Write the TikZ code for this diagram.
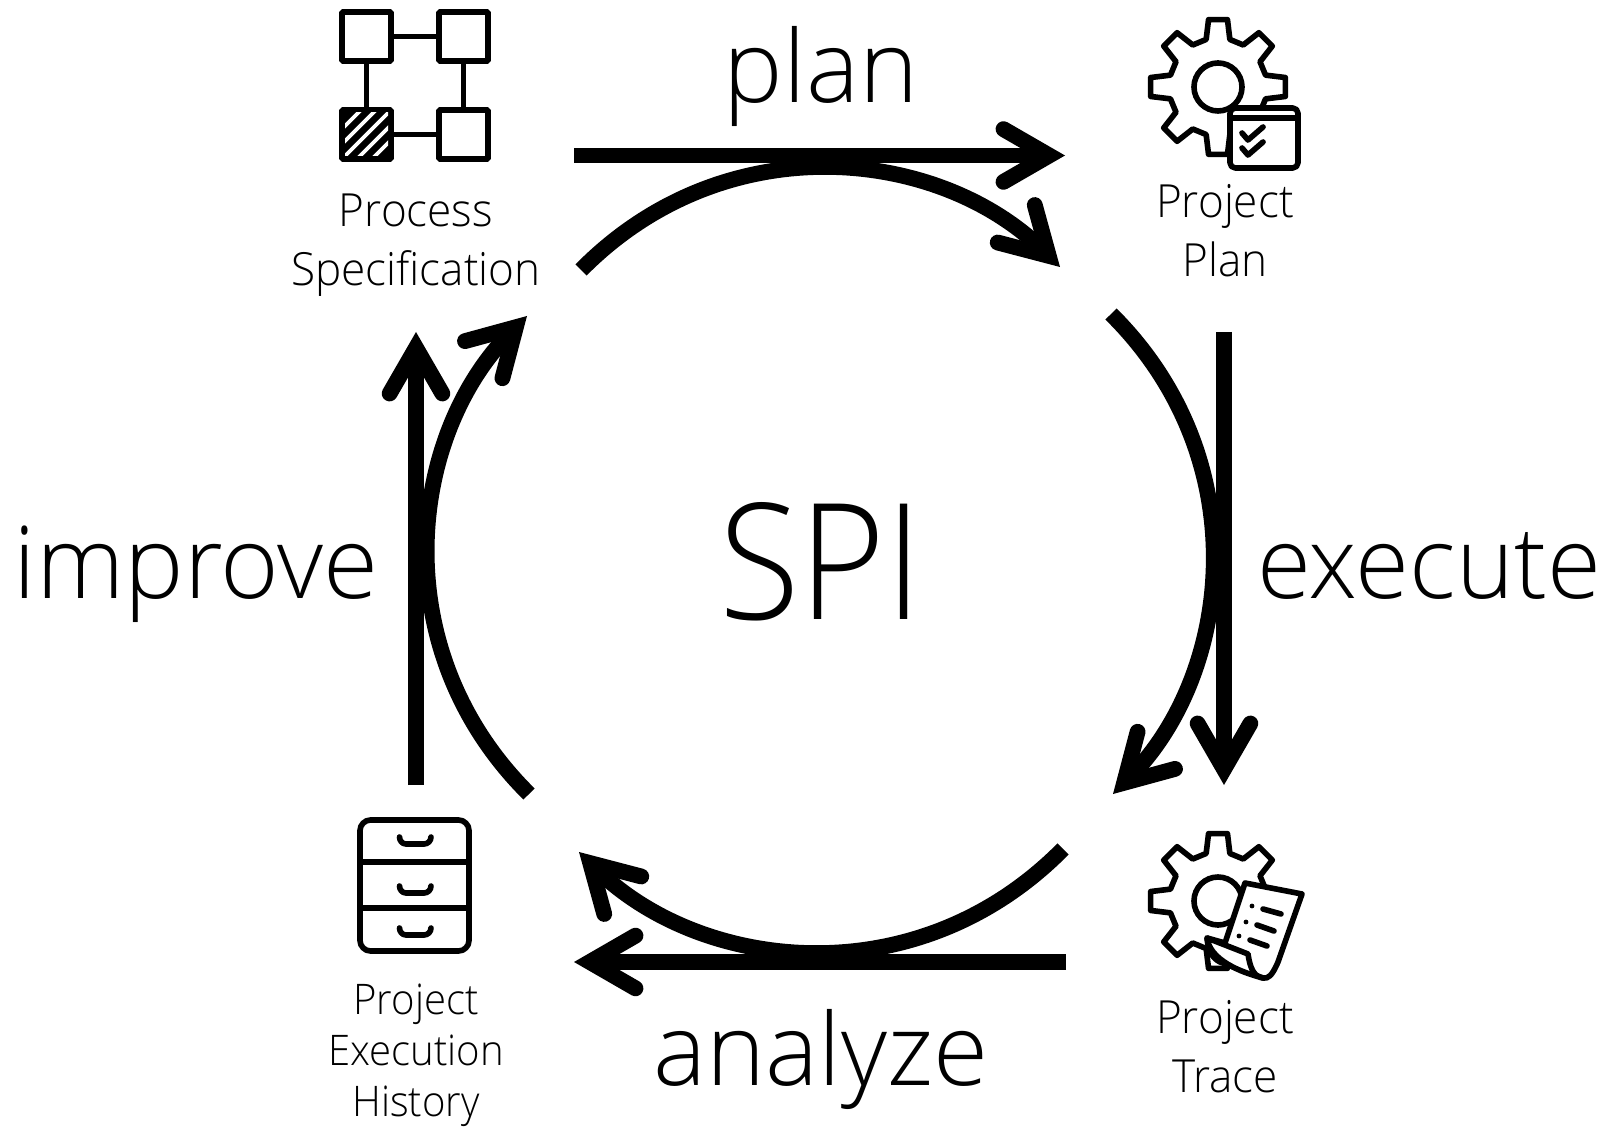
\documentclass[tikz,border=0pt]{standalone}
\usepackage{fontspec}
\setmainfont{Open Sans Light}
\usetikzlibrary{arrows.meta}
\tikzset{
  flow/.style={line width=9pt,-{Straight Barb[length=26pt,width=30pt,line cap=round,line join=miter]}},
  arcflow/.style={flow,bend left=45,out looseness=1.1,in looseness=.9},
  ink/.style={line width=3.2pt,line join=round,line cap=round},
  box node/.style={draw,line width=3.2pt,rounded corners=.6pt,minimum size=27.9pt,inner sep=0pt,fill=white},
  big label/.style={font=\fontsize{57}{60}\selectfont,anchor=base},
  huge label/.style={font=\fontsize{92}{96}\selectfont\addfontfeatures{FakeStretch=.91},anchor=base},
  small label/.style={font=\fontsize{26}{33.5}\selectfont\addfontfeatures{FakeStretch=.965},align=center,anchor=base},
  tiny label/.style={font=\fontsize{24}{29}\selectfont\addfontfeatures{FakeStretch=.95},align=center,anchor=base},
}
\newcommand{\gearicon}{%
  \draw[ink,fill=white] (76:49) \foreach \a in {90,135,...,405} {
    -- (\a-14:49) -- (\a-8:68) -- (\a+8:68) -- (\a+14:49)} -- cycle;
  \draw[ink] (0,0) circle (24);
}
\begin{document}
\begin{tikzpicture}[x=0.02cm,y=0.02cm]
  \useasboundingbox (0,0) rectangle (1613,-1131);
  % straight arrows
  \coordinate (planA) at (574,-155.5);
  \coordinate (planB) at (1065,-155.5);
  \coordinate (execA) at (1224,-332);
  \coordinate (execB) at (1224,-785);
  \coordinate (analA) at (1066,-962);
  \coordinate (analB) at (574,-962);
  \coordinate (imprA) at (416,-785);
  \coordinate (imprB) at (416,-332);
  \draw[flow] (planA) -- (planB);
  \draw[flow] (execA) -- (execB);
  \draw[flow] (analA) -- (analB);
  \draw[flow] (imprA) -- (imprB);
  % the circle
  \coordinate (topA) at (581,-270);
  \coordinate (topB) at (1060,-267);
  \coordinate (rightA) at (1111,-314);
  \coordinate (rightB) at (1113,-794);
  \coordinate (botA) at (1063,-849);
  \coordinate (botB) at (579,-852);
  \coordinate (leftA) at (529,-794);
  \coordinate (leftB) at (527,-316);
  \draw[arcflow] (topA) to (topB);
  \draw[arcflow] (rightA) to (rightB);
  \draw[arcflow] (botA) to (botB);
  \draw[arcflow] (leftA) to (leftB);
  % labels
  \node[huge label] (spi) at (821,-620) {SPI};
  \node[big label] (plan) at (821,-103) {plan};
  \node[big label,font=\fontsize{57}{60}\selectfont\addfontfeatures{FakeStretch=.98}] (execute) at (1429,-599) {execute};
  \node[big label] (analyze) at (821,-1085) {analyze};
  \node[big label] (improve) at (196,-599) {improve};
  \node[small label] (spec) at (416,-285.5) {Process\\Specification};
  \node[small label] (pplan) at (1225,-276.5) {Project\\Plan};
  \node[small label] (trace) at (1225,-1092) {Project\\Trace};
  \node[tiny label] (history) at (416,-1116) {Project\\Execution\\History};
  % process icon
  \node[box node] (b1) at (366.5,-36.5) {};
  \node[box node] (b2) at (463.5,-36.5) {};
  \node[box node] (b3) at (366.5,-134.5) {};
  \node[box node] (b4) at (463.5,-134.5) {};
  \path[ink]
   (b1) edge (b2)
   (b1) edge (b3)
   (b2) edge (b4)
   (b3) edge (b4);
  \fill (342,-110) rectangle (391,-159);
  \begin{scope}
    \clip (345,-113) rectangle (388,-156);
    \foreach \d in {-30,-15,...,30}
      \draw[line width=2.2pt,white] (366.5+\d-30,-164.5) -- (366.5+\d+30,-104.5);
  \end{scope}
  % plan icon
  \begin{scope}[shift={(1218,-87)}]
    \gearicon
  \end{scope}
  \draw[ink,fill=white,rounded corners=3pt] (1230,-108) rectangle (1298,-168);
  \draw[ink] (1230,-118) -- (1298,-118);
  \draw[ink] (1242,-133) -- (1248,-140) -- (1263,-127);
  \draw[ink] (1242,-148) -- (1248,-155) -- (1263,-142);
  % trace icon
  \begin{scope}[shift={(1218,-901)}]
    \gearicon
  \end{scope}
  \draw[ink,fill=white] (1245,-883) -- (1302,-894) -- (1278,-962)
    .. controls (1272,-976) and (1268,-979) .. (1263,-978)
    -- (1220,-962) .. controls (1212,-958) and (1208,-950) .. (1207,-938)
    -- (1225,-943) -- cycle;
  \draw[ink,fill=white] (1207,-938) -- (1248,-954)
    .. controls (1250,-968) and (1254,-977) .. (1263,-978)
    .. controls (1240,-972) and (1210,-960) .. (1207,-938) -- cycle;
  \fill (1252,-906) circle (2.4) (1246,-922) circle (2.4) (1239,-936) circle (2.4);
  \draw[ink] (1263,-909) -- (1281,-914) (1257,-925) -- (1274,-931) (1250,-940) -- (1267,-946);
  % history icon
  \draw[ink,rounded corners=6pt] (360,-820) rectangle (469,-951);
  \draw[ink] (360,-862) -- (469,-862) (360,-908) -- (469,-908);
  \foreach \y in {-837,-886,-928}
    \draw[ink] (399.5,\y) to[out=-90,in=180] (406,\y-7) -- (424,\y-7) to[out=0,in=-90] (431,\y);
\end{tikzpicture}
\end{document}
